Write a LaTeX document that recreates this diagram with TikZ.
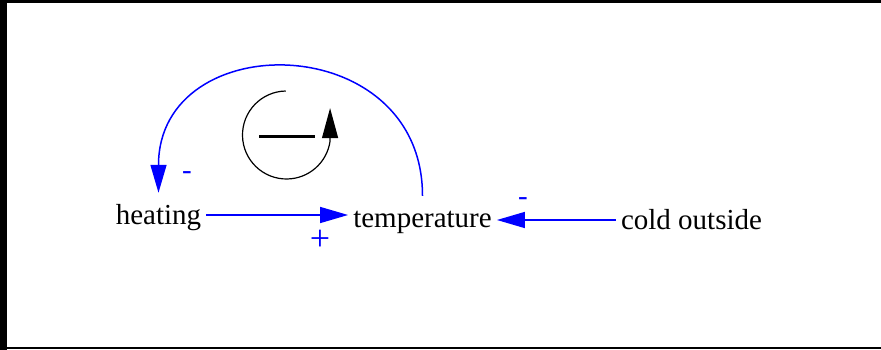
\documentclass[tikz,border=0pt]{standalone}
\usepackage{fontspec}
\setmainfont{Liberation Serif}
\usetikzlibrary{arrows.meta}

\begin{document}
\begin{tikzpicture}[
        x=1pt, y=1pt,
        var/.style={font=\fontsize{29}{34}\selectfont, anchor=base,
                    inner xsep=5pt, inner ysep=12pt, text height=20pt, text depth=0pt},
        pol/.style={font=\fontsize{29}{34}\selectfont, text=blue, anchor=base, inner sep=0pt},
        link/.style={blue, line width=1.5pt, -{Triangle[length=28pt, width=16pt]}},
        loopline/.style={black, line width=1.2pt, -{Triangle[length=30pt, width=16pt]}}]

    \useasboundingbox (0,0) rectangle (881,350);

    % --- Marco
    \fill[black] (0,0) rectangle (7,350);
    \fill[black] (0,347) rectangle (881,350);
    \fill[black] (0,1) rectangle (881,2.5);

    % --- Variables
    \node[var] (heating) at (158.5,125) {heating};
    \node[var] (temperature) at (422.5,122) {temperature};
    \node[var] (cold) at (691.5,120) {cold outside};

    % --- Enlaces causales
    \draw[link] (heating.east) -- (heating.east -| temperature.west);
    \draw[link] (cold.west) -- (cold.west -| temperature.east);
    \draw[link] (temperature.north) to[out=90, in=90, looseness=1.62] (heating.north);

    % --- Polaridades
    \node[pol, font=\fontsize{36}{40}\selectfont] (polht) at (320,99) {+};
    \node[pol] (polct) at (523,144.6) {-};
    \node[pol] (polth) at (187,170) {-};

    % --- Símbolo del bucle (negativo)
    \coordinate (loopc) at (286.5,215);
    \draw[loopline] ([shift={(91:44)}]loopc) arc[start angle=91, end angle=352, radius=44] -- ++(0,33);
    \draw[line width=3.5pt] (259,213.3) -- (314.5,213.3);

\end{tikzpicture}
\end{document}
